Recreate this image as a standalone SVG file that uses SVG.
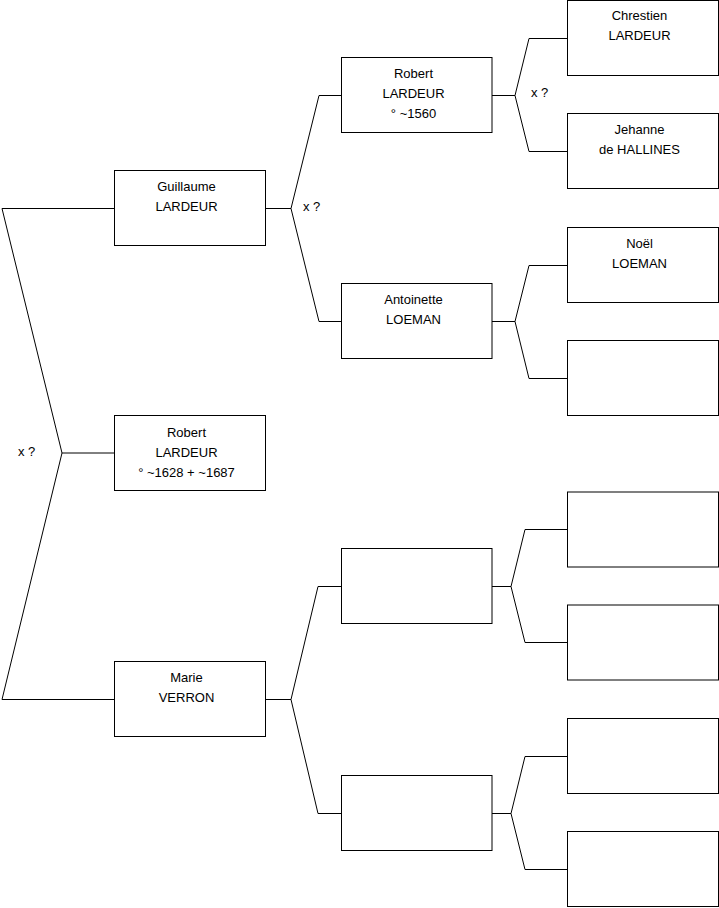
<svg xmlns="http://www.w3.org/2000/svg" width="719" height="908" viewBox="0 0 719 908">
<style>
.box{fill:#fff;stroke:#000;stroke-width:1}
.ln{fill:none;stroke:#000;stroke-width:1}
text{font-family:"Liberation Sans",Arial,sans-serif;font-size:13px;fill:#000}
.c{text-anchor:middle}
</style>
<rect width="719" height="908" fill="#fff"/>
<g id="connectors">
<polyline class="ln" points="114,208.5 2,208.5 62,453 2,699.5 114,699.5"/>
<line class="ln" x1="62" y1="453" x2="114" y2="453"/>
<polyline class="ln" points="265,208.5 291,208.5"/>
<polyline class="ln" points="341,95.5 319,95.5 291,208.5 319,321.5 341,321.5"/>
<polyline class="ln" points="265,699.5 291,699.5"/>
<polyline class="ln" points="341,586.5 318,586.5 291,699.5 318,813.5 341,813.5"/>
<polyline class="ln" points="492,95.5 515,95.5"/>
<polyline class="ln" points="567,38.5 529,38.5 515,95.5 529,151.5 567,151.5"/>
<polyline class="ln" points="492,321.5 515,321.5"/>
<polyline class="ln" points="567,265.5 529,265.5 515,321.5 529,378.5 567,378.5"/>
<polyline class="ln" points="492,586.5 511,586.5"/>
<polyline class="ln" points="567,529.5 525,529.5 511,586.5 525,642.5 567,642.5"/>
<polyline class="ln" points="492,813.5 511,813.5"/>
<polyline class="ln" points="567,756.5 525,756.5 511,813.5 525,869.5 567,869.5"/>
<text x="18" y="456">x ?</text>
<text x="303" y="211">x ?</text>
<text x="531" y="97">x ?</text>
</g>
<g id="guillaume"><rect class="box" x="114.5" y="170.5" width="151" height="75"/>
<text class="c" x="186.5" y="191">Guillaume</text><text class="c" x="186.5" y="211">LARDEUR</text></g>
<g id="robert-1628"><rect class="box" x="114.5" y="415.5" width="151" height="75"/>
<text class="c" x="186.5" y="437">Robert</text><text class="c" x="186.5" y="457">LARDEUR</text><text class="c" x="186.5" y="477">° ~1628 + ~1687</text></g>
<g id="marie"><rect class="box" x="114.5" y="661.5" width="151" height="75"/>
<text class="c" x="186.5" y="682">Marie</text><text class="c" x="186.5" y="702">VERRON</text></g>
<g id="robert-1560"><rect class="box" x="341.5" y="57.5" width="150.5" height="75"/>
<text class="c" x="413.5" y="78">Robert</text><text class="c" x="413.5" y="98">LARDEUR</text><text class="c" x="413.5" y="118">° ~1560</text></g>
<g id="antoinette"><rect class="box" x="341.5" y="283.5" width="150.5" height="75"/>
<text class="c" x="413.5" y="304">Antoinette</text><text class="c" x="413.5" y="324">LOEMAN</text></g>
<g id="empty-a"><rect class="box" x="341.5" y="548.5" width="150.5" height="75"/></g>
<g id="empty-b"><rect class="box" x="341.5" y="775.5" width="150.5" height="75"/></g>
<g id="chrestien"><rect class="box" x="567.5" y="0.5" width="151" height="75"/>
<text class="c" x="639.5" y="20">Chrestien</text><text class="c" x="639.5" y="40">LARDEUR</text></g>
<g id="jehanne"><rect class="box" x="567.5" y="113.5" width="151" height="75"/>
<text class="c" x="639.5" y="134">Jehanne</text><text class="c" x="639.5" y="154">de HALLINES</text></g>
<g id="noel"><rect class="box" x="567.5" y="227.5" width="151" height="75"/>
<text class="c" x="639.5" y="248">Noël</text><text class="c" x="639.5" y="268">LOEMAN</text></g>
<g id="empty-c"><rect class="box" x="567.5" y="340.5" width="151" height="75"/></g>
<g id="empty-d"><rect class="box" x="567.5" y="492" width="151" height="75"/></g>
<g id="empty-e"><rect class="box" x="567.5" y="605" width="151" height="75"/></g>
<g id="empty-f"><rect class="box" x="567.5" y="718.5" width="151" height="75"/></g>
<g id="empty-g"><rect class="box" x="567.5" y="831.5" width="151" height="75"/></g>
</svg>
